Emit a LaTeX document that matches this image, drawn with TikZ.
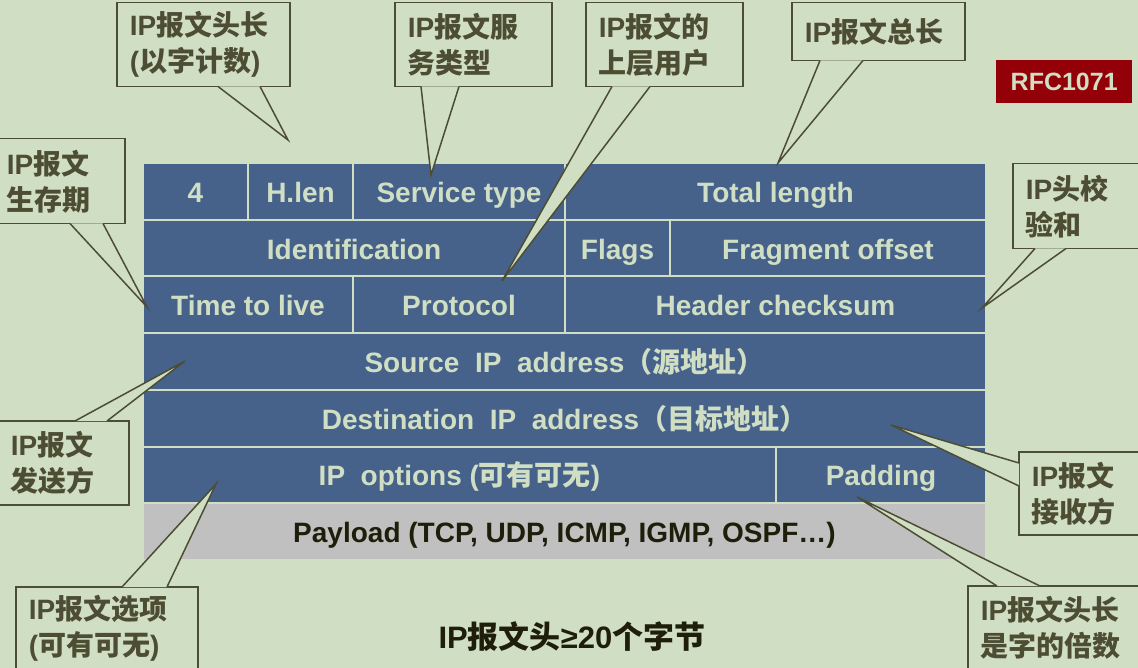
\documentclass[tikz,border=0pt]{standalone}
\usepackage{fontspec}
\setmainfont{Liberation Sans}
\newfontfamily\cjk{Noto Sans CJK SC}
\newcommand{\zh}[1]{{\cjk #1}}
\usetikzlibrary{positioning}

\definecolor{bgc}{HTML}{D0DFC4}
\definecolor{cellc}{HTML}{46628A}
\definecolor{notec}{HTML}{4D4D33}
\definecolor{inkc}{HTML}{1E1E0A}
\definecolor{rfcc}{HTML}{940008}
\definecolor{payc}{HTML}{C0C0C0}

\begin{document}
\begin{tikzpicture}[x=1pt, y=-1pt,
  cell/.style={
        draw=bgc, line width=2pt, fill=cellc, text=bgc,
        outer sep=0pt, inner sep=0pt, minimum height=56.7pt,
        text height=25pt, text depth=3pt,
        font=\bfseries\fontsize{28}{34}\selectfont
  },
  note/.style={
        draw=notec, line width=1.5pt, fill=bgc, text=notec,
        anchor=north west, align=left, inner xsep=13pt, inner ysep=0pt,
        font=\bfseries\fontsize{28}{36}\selectfont
  },
  tail/.style={
        draw=notec, line width=1.5pt, fill=bgc
  }
]

    \fill[bgc] (0,0) rectangle (1138,668);
    \useasboundingbox (0,0) rectangle (1138,668);

    % header rows
    \node[cell, minimum width=105pt, anchor=north west] (ver) at (143,163) {4};
    \node[cell, minimum width=105pt, right=0pt of ver] (hlen) {H.len};
    \node[cell, minimum width=212pt, right=0pt of hlen] (tos) {Service type};
    \node[cell, minimum width=421pt, right=0pt of tos] (totlen) {Total length};

    \node[cell, minimum width=422pt, anchor=north west] (ident) at (ver.south west) {Identification};
    \node[cell, minimum width=105pt, right=0pt of ident] (flags) {Flags};
    \node[cell, minimum width=316pt, right=0pt of flags] (frag) {Fragment offset};

    \node[cell, minimum width=210pt, anchor=north west] (ttl) at (ident.south west) {Time to live};
    \node[cell, minimum width=212pt, right=0pt of ttl] (proto) {Protocol};
    \node[cell, minimum width=421pt, right=0pt of proto] (cksum) {Header checksum};

    \node[cell, minimum width=843pt, anchor=north west] (src) at (ttl.south west) {Source\ \ IP\ \ address\zh{（源地址）}};
    \node[cell, minimum width=843pt, anchor=north west] (dst) at (src.south west) {Destination\ \ IP\ \ address\zh{（目标地址）}};

    \node[cell, minimum width=633pt, anchor=north west] (opts) at (dst.south west) {IP\ \ options (\zh{可有可无})};
    \node[cell, minimum width=210pt, right=0pt of opts] (pad) {Padding};

    \node[cell, minimum width=843pt, anchor=north west, fill=payc, text=inkc] (payload) at (opts.south west) {Payload (TCP, UDP, ICMP, IGMP, OSPF…)};

    \node[fill=rfcc, text=bgc, minimum width=136pt, minimum height=43pt, inner sep=0pt, anchor=north west,
          font=\bfseries\fontsize{25}{30}\selectfont] (rfc) at (996,60) {RFC1071};

    \node[text=inkc, font=\bfseries\fontsize{31}{36}\selectfont] (title) at (572,637) {IP\zh{报文头}≥20\zh{个字节}};

    % callouts
    \node[note, text width=147pt, minimum height=84pt] (hlenNote) at (116,2) {IP\zh{报文头长}\\(\zh{以字计数})};
    \node[note, text width=131pt, minimum height=84pt] (tosNote) at (394,2) {IP\zh{报文服}\\\zh{务类型}};
    \node[note, text width=131pt, minimum height=84pt] (protoNote) at (585,2) {IP\zh{报文的}\\\zh{上层用户}};
    \node[note, text width=147pt, minimum height=58pt] (totNote) at (791,2) {IP\zh{报文总长}};
    \node[note, text width=104pt, minimum height=85pt] (ckNote) at (1012,163) {IP\zh{头校}\\\zh{验和}};
    \node[note, text width=105pt, minimum height=85pt] (ttlNote) at (-7,138) {IP\zh{报文}\\\zh{生存期}};
    \node[note, text width=105pt, minimum height=84pt] (sendNote) at (-3,420) {IP\zh{报文}\\\zh{发送方}};
    \node[note, text width=156pt, minimum height=84pt] (optNote) at (15,586) {IP\zh{报文选项}\\(\zh{可有可无})};
    \node[note, text width=98pt, minimum height=83pt] (recvNote) at (1018,451) {IP\zh{报文}\\\zh{接收方}};
    \node[note, text width=149pt, minimum height=84pt] (padNote) at (967,585) {IP\zh{报文头长}\\\zh{是字的倍数}};

    \coordinate (hlenTip) at (288,140);
    \coordinate (tosTip) at (431,175);
    \coordinate (protoTip) at (502,281);
    \coordinate (totTip) at (778,163);
    \coordinate (ckTip) at (982,308);
    \coordinate (ttlTip) at (147,307);
    \coordinate (sendTip) at (185,361);
    \coordinate (optTip) at (216,484);
    \coordinate (recvTip) at (891,425);
    \coordinate (padTip) at (857,497);

    \draw[tail] ([xshift=102pt, yshift=1pt]hlenNote.south west) -- (hlenTip) -- ([xshift=144pt, yshift=1pt]hlenNote.south west);
    \draw[tail] ([xshift=27pt, yshift=1pt]tosNote.south west) -- (tosTip) -- ([xshift=65pt, yshift=1pt]tosNote.south west);
    \draw[tail] ([xshift=27pt, yshift=1pt]protoNote.south west) -- (protoTip) -- ([xshift=65pt, yshift=1pt]protoNote.south west);
    \draw[tail] ([xshift=29pt, yshift=1pt]totNote.south west) -- (totTip) -- ([xshift=72pt, yshift=1pt]totNote.south west);
    \draw[tail] ([xshift=23pt, yshift=1pt]ckNote.south west) -- (ckTip) -- ([xshift=54pt, yshift=1pt]ckNote.south west);
    \draw[tail] ([xshift=77pt, yshift=1pt]ttlNote.south west) -- (ttlTip) -- ([xshift=110pt, yshift=1pt]ttlNote.south west);
    \draw[tail] ([xshift=78pt, yshift=-1pt]sendNote.north west) -- (sendTip) -- ([xshift=110pt, yshift=-1pt]sendNote.north west);
    \draw[tail] ([xshift=107pt, yshift=-1pt]optNote.north west) -- (optTip) -- ([xshift=152pt, yshift=-1pt]optNote.north west);
    \draw[tail] ([xshift=1pt, yshift=-12pt]recvNote.north west) -- (recvTip) -- ([xshift=1pt, yshift=-35pt]recvNote.north west);
    \draw[tail] ([xshift=30pt, yshift=-1pt]padNote.north west) -- (padTip) -- ([xshift=73pt, yshift=-1pt]padNote.north west);
\end{tikzpicture}
\end{document}
